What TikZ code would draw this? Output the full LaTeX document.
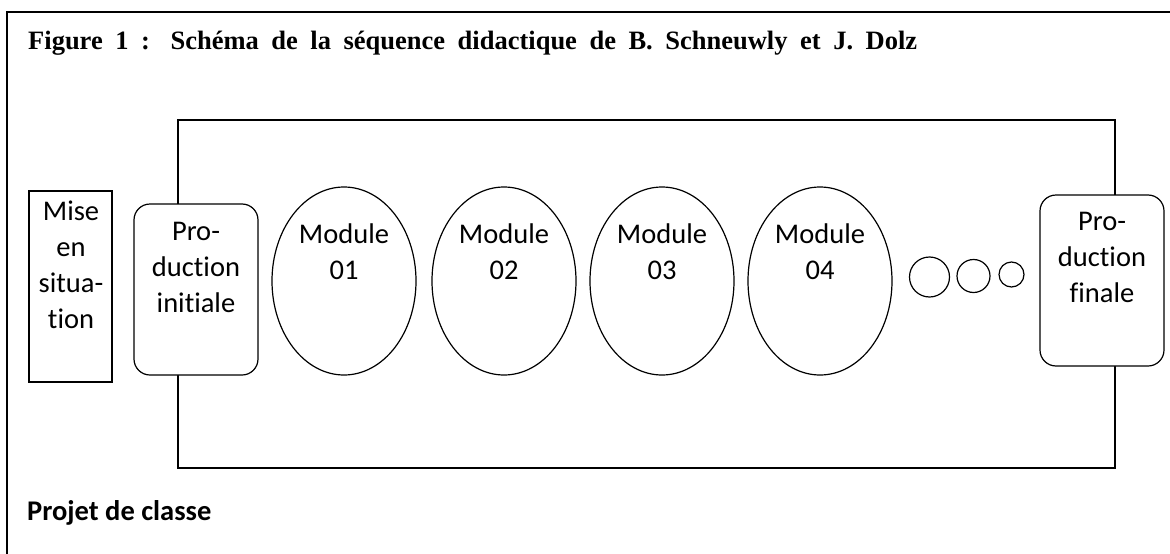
\documentclass[tikz,border=0pt]{standalone}
\usepackage{fontspec}
\setmainfont{Liberation Serif}
\newfontfamily\calfont[Ligatures=NoCommon]{Carlito}
\usetikzlibrary{shapes.geometric}
\begin{document}
\begin{tikzpicture}[x=1pt,y=-1pt,
  frame/.style={line width=1.5pt},
  shp/.style={draw,line width=1.2pt,fill=white,inner sep=0pt},
  rbox/.style={shp,rectangle,rounded corners=16pt},
  oval/.style={shp,ellipse,minimum width=144pt,minimum height=188pt},
  dot/.style={shp,circle},
  txt/.style={font=\calfont\fontsize{28.5}{36}\selectfont,align=center,inner sep=0pt,anchor=north}]
\useasboundingbox (0,0) rectangle (1170,554);
% outer frame (open at right and bottom)
\coordinate (o1) at (7,554);
\coordinate (o2) at (7,12);
\coordinate (o3) at (1170,12);
\draw[frame] (o1) -- (o2) -- (o3);
% title
\node[anchor=base west,inner sep=0pt,font=\bfseries\fontsize{26.5}{30}\selectfont] (title) at (28,49)
  {\hbox to 889pt{Figure 1 : Schéma de la séquence didactique de B. Schneuwly et J. Dolz}};
% inner rectangle
\node[draw,frame,rectangle,inner sep=0pt,minimum width=937pt,minimum height=348pt] (inner) at (646.5,294) {};
% boxes
\node[shp,rectangle,minimum width=83pt,minimum height=191pt] (mise) at (70.5,286.5) {};
\node[rbox,minimum width=124pt,minimum height=171pt] (pinit) at (196,289.5) {};
\node[oval] (m1) at (344,281) {};
\node[oval] (m2) at (504,281) {};
\node[oval] (m3) at (662,281) {};
\node[oval] (m4) at (820,281) {};
\node[dot,minimum size=40pt] (c1) at (929.5,277) {};
\node[dot,minimum size=33pt] (c2) at (973.5,276) {};
\node[dot,minimum size=25pt] (c3) at (1011.5,274.5) {};
\node[rbox,minimum width=124pt,minimum height=171pt] (pfin) at (1102,280.5) {};
% texts
\node[txt] (tmise) at (71,194.8) {\strut Mise\\en\\situa-\\tion};
\node[txt] (tpinit) at (196,214.8) {\strut Pro-\\duction\\initiale};
\node[txt] (tm1) at (344,217.8) {\strut Module\\01};
\node[txt] (tm2) at (504,217.8) {\strut Module\\02};
\node[txt] (tm3) at (662,217.8) {\strut Module\\03};
\node[txt] (tm4) at (820,217.8) {\strut Module\\04};
\node[txt] (tpfin) at (1102,204.8) {\strut Pro-\\duction\\finale};
\node[anchor=base west,inner sep=0pt,font=\calfont\bfseries\fontsize{28.5}{34}\selectfont] (projet) at (27,520) {Projet de classe};
\end{tikzpicture}
\end{document}
